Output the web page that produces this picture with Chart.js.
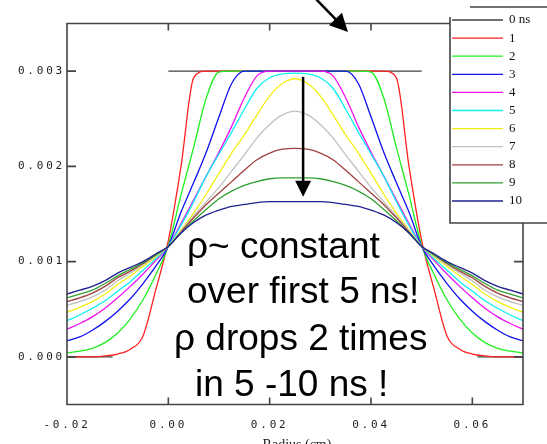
<!DOCTYPE html>
<html>

<head>
    <meta charset="utf-8">
    <script src="https://cdn.jsdelivr.net/npm/chart.js@4.4.1/dist/chart.umd.min.js"></script>
    <style>
        body { margin: 0; background: #fff; }
        canvas { display: block; }
    </style>
    <title>Density profiles</title>
</head>

<body>
    <canvas id="plot" width="547" height="444"></canvas>
    <script>
        // radius grid (cm), step 0.0025
        var radius = [-0.02, -0.0175, -0.015, -0.0125, -0.01, -0.0075, -0.005, -0.0025, 0,
            0.0025, 0.005, 0.0075, 0.01, 0.0125, 0.015, 0.0175, 0.02, 0.0225, 0.025,
            0.0275, 0.03, 0.0325, 0.035, 0.0375, 0.04, 0.0425, 0.045, 0.0475, 0.05,
            0.0525, 0.055, 0.0575, 0.06, 0.0625, 0.065, 0.0675, 0.07]

        // 0 ns: step profile (only the visible pieces)
        var stepX = [-0.02, -0.011, -0.011, 0, 0.05, 0.05, 0.061, 0.07]
        var stepY = [0, 0, null, 0.003, 0.003, null, 0, 0]

        var ns1 = [0, 0, 0, 0.00001, 0.00003, 0.00008, 0.00022, 0.0007, 0.00122, 0.002, 0.00293,
            0.003, 0.003, 0.003, 0.003, 0.003, 0.003, 0.003, 0.003, 0.003, 0.003, 0.003, 0.003, 0.003, 0.003, 0.003,
            0.00293, 0.002, 0.00122, 0.0007, 0.00022, 0.00008, 0.00003, 0.00001, 0, 0, 0]
        var ns2 = [0.00004, 0.00006, 0.00009, 0.00015, 0.00025, 0.0004, 0.0006, 0.00086, 0.00117, 0.0017, 0.0022, 0.00272, 0.00299,
            0.003, 0.003, 0.003, 0.003, 0.003, 0.003, 0.003, 0.003, 0.003, 0.003, 0.003,
            0.00299, 0.00272, 0.0022, 0.0017, 0.00117, 0.00086, 0.0006, 0.0004, 0.00025, 0.00015, 0.00009, 0.00006, 0.00004]
        var ns3 = [0.00017, 0.00021, 0.00028, 0.00037, 0.00048, 0.00061, 0.00077, 0.00095, 0.00116, 0.00152, 0.00183, 0.00215, 0.00252, 0.00287,
            0.003, 0.003, 0.003, 0.003, 0.003, 0.003, 0.003, 0.003, 0.003,
            0.00287, 0.00252, 0.00215, 0.00183, 0.00152, 0.00116, 0.00095, 0.00077, 0.00061, 0.00048, 0.00037, 0.00028, 0.00021, 0.00017]
        var ns4 = [0.00029, 0.00035, 0.00042, 0.00051, 0.00062, 0.00074, 0.00087, 0.00101, 0.00116, 0.0014, 0.00165, 0.0019, 0.00215, 0.00242, 0.00272, 0.00295,
            0.003, 0.003, 0.003, 0.003, 0.003,
            0.00295, 0.00272, 0.00242, 0.00215, 0.0019, 0.00165, 0.0014, 0.00116, 0.00101, 0.00087, 0.00074, 0.00062, 0.00051, 0.00042, 0.00035, 0.00029]
        var ns5 = [0.00038, 0.00044, 0.00051, 0.00059, 0.00069, 0.00079, 0.00091, 0.00103, 0.00116, 0.00138, 0.00163, 0.0019, 0.00213, 0.00236, 0.0026, 0.00282, 0.00293, 0.00297,
            0.00298,
            0.00297, 0.00293, 0.00282, 0.0026, 0.00236, 0.00213, 0.0019, 0.00163, 0.00138, 0.00116, 0.00103, 0.00091, 0.00079, 0.00069, 0.00059, 0.00051, 0.00044, 0.00038]
        var ns6 = [0.00047, 0.00052, 0.00058, 0.00066, 0.00076, 0.00085, 0.00095, 0.00105, 0.00116, 0.00133, 0.00151, 0.00171, 0.00193, 0.00214, 0.00233, 0.00254, 0.00274, 0.00287,
            0.00292,
            0.00287, 0.00274, 0.00254, 0.00233, 0.00214, 0.00193, 0.00171, 0.00151, 0.00133, 0.00116, 0.00105, 0.00095, 0.00085, 0.00076, 0.00066, 0.00058, 0.00052, 0.00047]
        var ns7 = [0.00054, 0.00058, 0.00063, 0.0007, 0.0008, 0.00088, 0.00097, 0.00106, 0.00116, 0.00132, 0.00148, 0.00163, 0.00178, 0.00195, 0.00212, 0.0023, 0.00244, 0.00254,
            0.00258,
            0.00254, 0.00244, 0.0023, 0.00212, 0.00195, 0.00178, 0.00163, 0.00148, 0.00132, 0.00116, 0.00106, 0.00097, 0.00088, 0.0008, 0.0007, 0.00063, 0.00058, 0.00054]
        var ns8 = [0.00058, 0.00062, 0.00067, 0.00074, 0.00083, 0.0009, 0.00098, 0.00107, 0.00116, 0.00131, 0.00146, 0.0016, 0.00172, 0.00184, 0.00196, 0.00207, 0.00214, 0.00218,
            0.00219,
            0.00218, 0.00214, 0.00207, 0.00196, 0.00184, 0.00172, 0.0016, 0.00146, 0.00131, 0.00116, 0.00107, 0.00098, 0.0009, 0.00083, 0.00074, 0.00067, 0.00062, 0.00058]
        var ns9 = [0.00062, 0.00066, 0.0007, 0.00077, 0.00085, 0.00092, 0.00099, 0.00107, 0.00116, 0.0013, 0.00143, 0.00155, 0.00166, 0.00174, 0.0018, 0.00184, 0.00187, 0.00188,
            0.00188,
            0.00188, 0.00187, 0.00184, 0.0018, 0.00174, 0.00166, 0.00155, 0.00143, 0.0013, 0.00116, 0.00107, 0.00099, 0.00092, 0.00085, 0.00077, 0.0007, 0.00066, 0.00062]
        var ns10 = [0.00066, 0.0007, 0.00074, 0.0008, 0.00088, 0.00094, 0.001, 0.00108, 0.00116, 0.0013, 0.00141, 0.00149, 0.00154, 0.00158, 0.0016, 0.00162, 0.00163, 0.00163,
            0.00163,
            0.00163, 0.00163, 0.00162, 0.0016, 0.00158, 0.00154, 0.00149, 0.00141, 0.0013, 0.00116, 0.00108, 0.001, 0.00094, 0.00088, 0.0008, 0.00074, 0.0007, 0.00066]

        var seriesLabels = ['0 ns', '1', '2', '3', '4', '5', '6', '7', '8', '9', '10']
        var seriesValues = [null, ns1, ns2, ns3, ns4, ns5, ns6, ns7, ns8, ns9, ns10]
        var seriesColors = ['#404040', '#ff2020', '#20f020', '#1010f0', '#f010f0', '#10f0f0', '#f0f010',
            '#c0c0c0', '#a04040', '#30a030', '#202090']

        var xTicks = [-0.02, 0, 0.02, 0.04, 0.06]
        var xTickLabels = ['-0.02', '0.00', '0.02', '0.04', '0.06']
        var yTicks = [0, 0.001, 0.002, 0.003]
        var yTickLabels = ['0.000', '0.001', '0.002', '0.003']

        var noteLines = ['ρ~ constant', 'over first 5 ns!', 'ρ drops 2 times', 'in 5 -10 ns !']

        var datasets = []
        for (var i = 0; i < seriesLabels.length; i++) {
            var pts = []
            if (i == 0) {
                for (var k = 0; k < stepX.length; k++) pts.push({ x: stepX[k], y: stepY[k] })
            } else {
                for (var k = 0; k < radius.length; k++) pts.push({ x: radius[k], y: seriesValues[i][k] })
            }
            datasets.push({
                label: seriesLabels[i],
                data: pts,
                borderColor: seriesColors[i],
                borderWidth: 1.3,
                pointRadius: 0,
                fill: false,
                spanGaps: false,
                cubicInterpolationMode: i == 0 ? 'default' : 'monotone',
                tension: 0,
                order: -i
            })
        }

        function arrow(ctx, x1, y1, x2, y2, w, head) {
            var a = Math.atan2(y2 - y1, x2 - x1)
            var c = Math.cos(a), s = Math.sin(a)
            ctx.lineWidth = w
            ctx.beginPath()
            ctx.moveTo(x1, y1)
            ctx.lineTo(x2 - head * 0.8 * c, y2 - head * 0.8 * s)
            ctx.stroke()
            ctx.beginPath()
            ctx.moveTo(x2, y2)
            ctx.lineTo(x2 - head * c + head * 0.5 * s, y2 - head * s - head * 0.5 * c)
            ctx.lineTo(x2 - head * c - head * 0.5 * s, y2 - head * s + head * 0.5 * c)
            ctx.closePath()
            ctx.fill()
        }

        var extras = {
            id: 'extras',
            beforeDraw: function (chart) {
                chart.ctx.letterSpacing = '2.8px'
            },
            afterDatasetsDraw: function (chart) {
                var ctx = chart.ctx
                var a = chart.chartArea
                var xs = chart.scales.x, ys = chart.scales.y
                ctx.letterSpacing = '0px'
                ctx.save()

                // frame with inward ticks
                ctx.strokeStyle = '#444'
                ctx.lineWidth = 1.6
                ctx.beginPath()
                ctx.rect(a.left, a.top, a.right - a.left, a.bottom - a.top)
                xTicks.forEach(function (v) {
                    var px = xs.getPixelForValue(v)
                    ctx.moveTo(px, a.bottom); ctx.lineTo(px, a.bottom - 7)
                    ctx.moveTo(px, a.top); ctx.lineTo(px, a.top + 7)
                })
                yTicks.forEach(function (v) {
                    var py = ys.getPixelForValue(v)
                    ctx.moveTo(a.left, py); ctx.lineTo(a.left + 9, py)
                    ctx.moveTo(a.right, py); ctx.lineTo(a.right - 9, py)
                })
                ctx.stroke()

                // arrows
                ctx.strokeStyle = '#000'
                ctx.fillStyle = '#000'
                arrow(ctx, xs.getPixelForValue(0.0266), ys.getPixelForValue(0.00294),
                    xs.getPixelForValue(0.0266), ys.getPixelForValue(0.00168), 2.5, 16)
                arrow(ctx, 314, -3, 348, 32, 2.5, 18)

                // notes
                ctx.font = '37px "Liberation Sans", Arial, sans-serif'
                ctx.textBaseline = 'alphabetic'
                ctx.textAlign = 'left'
                var nx = [187, 187, 174, 195], ny = [258, 303, 350, 396]
                for (var i = 0; i < noteLines.length; i++) ctx.fillText(noteLines[i], nx[i], ny[i])

                // axis title
                ctx.font = '14px "Liberation Serif", "Times New Roman", serif'
                ctx.fillStyle = '#222'
                ctx.textAlign = 'center'
                ctx.textBaseline = 'middle'
                ctx.fillText('Radius (cm)', (a.left + a.right) / 2 + 2, 445)

                // legend box
                ctx.fillStyle = '#fff'
                ctx.fillRect(450, 17, 100, 206)
                ctx.strokeStyle = '#444'
                ctx.lineWidth = 1.6
                ctx.beginPath()
                ctx.moveTo(450, 17); ctx.lineTo(450, 223); ctx.lineTo(550, 223)
                ctx.moveTo(470, 7); ctx.lineTo(550, 7)
                ctx.stroke()
                ctx.font = '13px "Liberation Serif", "Times New Roman", serif'
                ctx.textAlign = 'left'
                ctx.fillStyle = '#111'
                chart.data.datasets.forEach(function (ds, i) {
                    var y = 20 + i * 18.1
                    ctx.strokeStyle = ds.borderColor
                    ctx.lineWidth = 1.3
                    ctx.beginPath()
                    ctx.moveTo(452, y); ctx.lineTo(503, y)
                    ctx.stroke()
                    ctx.fillText(ds.label, 509, y)
                })
                ctx.restore()
            }
        }

        var tickFont = { family: '"DejaVu Sans Mono", monospace', size: 11 }

        new Chart(document.getElementById('plot'), {
            type: 'line',
            data: { datasets: datasets },
            options: {
                responsive: false,
                animation: false,
                devicePixelRatio: 1,
                layout: { padding: { top: 23.5, right: 24, left: 0, bottom: 0 } },
                plugins: { legend: { display: false }, tooltip: { enabled: false } },
                scales: {
                    x: {
                        type: 'linear',
                        min: -0.02,
                        max: 0.07,
                        grid: { display: false, drawTicks: false },
                        border: { display: false },
                        afterBuildTicks: function (s) { s.ticks = xTicks.map(function (v) { return { value: v } }) },
                        afterFit: function (s) { s.height = 39.5 },
                        ticks: {
                            font: tickFont,
                            color: '#222',
                            padding: 14,
                            maxRotation: 0,
                            autoSkip: false,
                            callback: function (v, idx) { return xTickLabels[idx] }
                        }
                    },
                    y: {
                        min: -0.0005,
                        max: 0.0035,
                        grid: { display: false, drawTicks: false },
                        border: { display: false },
                        afterBuildTicks: function (s) { s.ticks = yTicks.map(function (v) { return { value: v } }) },
                        afterFit: function (s) { s.width = 67 },
                        ticks: {
                            font: tickFont,
                            color: '#222',
                            padding: 2,
                            autoSkip: false,
                            callback: function (v, idx) { return yTickLabels[idx] }
                        }
                    }
                }
            },
            plugins: [extras]
        })
    </script>
</body>

</html>
